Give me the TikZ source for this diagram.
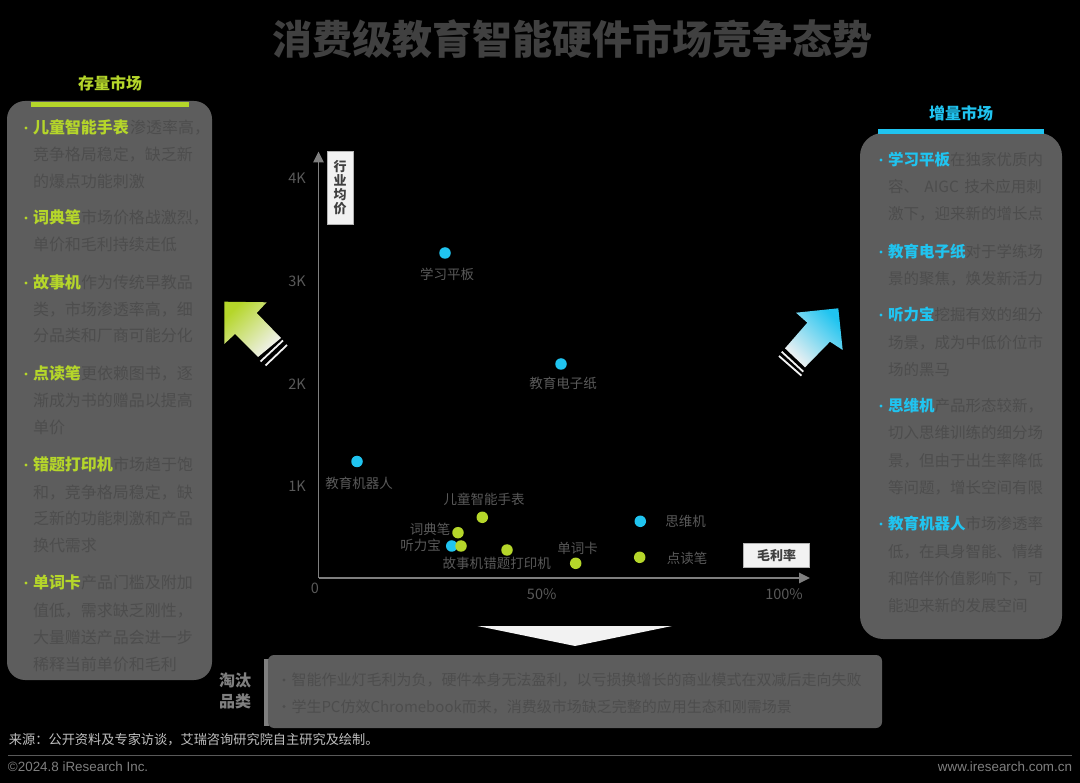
\documentclass[tikz,border=0pt]{standalone}
\usepackage{fontspec}
\setmainfont{Noto Sans CJK SC}
\newfontfamily\arialish{Liberation Sans}
\usetikzlibrary{arrows.meta}
\definecolor{limeC}{HTML}{B5D62A}
\definecolor{cyanC}{HTML}{20C4F0}
\definecolor{panelC}{HTML}{5D5D5D}
\definecolor{panelTxt}{HTML}{4D4D4D}
\definecolor{axisC}{HTML}{7F7F7F}
\definecolor{lblC}{HTML}{595959}
\definecolor{whiteC}{HTML}{F2F2F2}
\definecolor{titleC}{HTML}{404040}
\tikzset{
  txt/.style={inner sep=0pt,outer sep=0pt},
  panel/.style={fill=panelC,draw=none},
  ln16/.style={txt,anchor=west,text=panelTxt,font=\fontsize{16}{18}\selectfont,text height=14pt,text depth=2pt},
  ln15/.style={txt,anchor=west,text=panelTxt,font=\fontsize{15.5}{18}\selectfont,text height=13.6pt,text depth=1.9pt},
  hdL/.style={txt,anchor=west,text=limeC,font=\fontsize{16}{18}\selectfont\bfseries,text height=14pt,text depth=2pt},
  hdR/.style={txt,anchor=west,text=cyanC,font=\fontsize{15.5}{18}\selectfont\bfseries,text height=13.6pt,text depth=1.9pt},
  dotL/.style={circle,fill=limeC,minimum size=3.4pt,inner sep=0pt},
  dotC/.style={circle,fill=cyanC,minimum size=3.4pt,inner sep=0pt},
  ptL/.style={circle,fill=limeC,minimum size=11.5pt,inner sep=0pt},
  ptC/.style={circle,fill=cyanC,minimum size=11.5pt,inner sep=0pt},
  plbl/.style={txt,text=lblC,font=\fontsize{13.5}{15}\selectfont},
  tick/.style={txt,text=lblC,font=\fontsize{14.5}{16}\selectfont},
  axlbl/.style={fill=whiteC,draw=axisC!60!white,line width=0.6pt,text=titleC,inner sep=0pt,font=\fontsize{13}{14}\selectfont\bfseries,align=center},
  axline/.style={draw=axisC,line width=1.3pt,-{Triangle[length=11pt,width=10.5pt]}},
  botln/.style={txt,anchor=west,text=panelTxt,font=\fontsize{15}{17}\selectfont,text height=13.2pt,text depth=1.8pt},
  sectitle/.style={txt,font=\fontsize{16}{18}\selectfont\bfseries},
  stripe/.style={draw=whiteC,line width=1.8pt},
}
\begin{document}
\begin{tikzpicture}[x=1pt,y=-1pt]
\useasboundingbox (0,0) rectangle (1080,783);
\fill[black] (0,0) rectangle (1080,783);

% title
\node[txt,text=titleC,font=\fontsize{40}{42}\selectfont\bfseries] (title) at (572.5,39) {消费级教育智能硬件市场竞争态势};

% left panel
\fill[panel,rounded corners=18pt] (7,101) rectangle (212,680);
\fill[limeC] (31,102) rectangle (189,107.5);
\node[sectitle,text=limeC] (ltitle) at (110,83) {存量市场};

\node[dotL] (ld1) at (26,128) {};
\node[ln16] (l1a) at (130,128) {渗透率高，};
\node[ln16] (l1b) at (33,155) {竞争格局稳定，缺乏新};
\node[ln16] (l1c) at (33,181.5) {的爆点功能刺激};
\node[hdL] (l1h) at (33,128) {儿童智能手表};

\node[dotL] (ld2) at (26,218) {};
\node[ln16] (l2a) at (81,218) {市场价格战激烈，};
\node[ln16] (l2b) at (33,245) {单价和毛利持续走低};
\node[hdL] (l2h) at (33,218) {词典笔};

\node[dotL] (ld3) at (26,283) {};
\node[ln16] (l3a) at (81,283) {作为传统早教品};
\node[ln16] (l3b) at (33,309.5) {类，市场渗透率高，细};
\node[ln16] (l3c) at (33,336) {分品类和厂商可能分化};
\node[hdL] (l3h) at (33,283) {故事机};

\node[dotL] (ld4) at (26,374) {};
\node[ln16] (l4a) at (81,374) {更依赖图书，逐};
\node[ln16] (l4b) at (33,401) {渐成为书的赠品以提高};
\node[ln16] (l4c) at (33,428) {单价};
\node[hdL] (l4h) at (33,374) {点读笔};

\node[dotL] (ld5) at (26,465) {};
\node[ln16] (l5a) at (113,465) {市场趋于饱};
\node[ln16] (l5b) at (33,492.5) {和，竞争格局稳定，缺};
\node[ln16] (l5c) at (33,519) {乏新的功能刺激和产品};
\node[ln16] (l5d) at (33,546) {换代需求};
\node[hdL] (l5h) at (33,465) {错题打印机};

\node[dotL] (ld6) at (26,583) {};
\node[ln16] (l6a) at (81,583) {产品门槛及附加};
\node[ln16] (l6b) at (33,610) {值低，需求缺乏刚性，};
\node[ln16] (l6c) at (33,637) {大量赠送产品会进一步};
\node[ln16] (l6d) at (33,664.5) {稀释当前单价和毛利};
\node[hdL] (l6h) at (33,583) {单词卡};

% right panel
\fill[panel,rounded corners=23pt] (860,133) rectangle (1062,639);
\fill[cyanC] (878,129.5) rectangle (1044,134.5);
\node[sectitle,text=cyanC] (rtitle) at (961,113) {增量市场};

\node[dotC] (rd1) at (881,160) {};
\node[ln15] (r1a) at (950,160) {在独家优质内};
\node[ln15,text width=154pt] (r1b) at (888,187) {\makebox[154pt][s]{容、\hfill AIGC\hfill 技术应用刺}};
\node[ln15] (r1c) at (888,214) {激下，迎来新的增长点};
\node[hdR] (r1h) at (888,160) {学习平板};

\node[dotC] (rd2) at (881,252) {};
\node[ln15] (r2a) at (965.5,252) {对于学练场};
\node[ln15] (r2b) at (888,278.5) {景的聚焦，焕发新活力};
\node[hdR] (r2h) at (888,252) {教育电子纸};

\node[dotC] (rd3) at (881,315) {};
\node[ln15] (r3a) at (934.5,315) {挖掘有效的细分};
\node[ln15] (r3b) at (888,343) {场景，成为中低价位市};
\node[ln15] (r3c) at (888,369.5) {场的黑马};
\node[hdR] (r3h) at (888,315) {听力宝};

\node[dotC] (rd4) at (881,406) {};
\node[ln15] (r4a) at (934.5,406) {产品形态较新，};
\node[ln15] (r4b) at (888,433) {切入思维训练的细分场};
\node[ln15] (r4c) at (888,460.5) {景，但由于出生率降低};
\node[ln15] (r4d) at (888,487.5) {等问题，增长空间有限};
\node[hdR] (r4h) at (888,406) {思维机};

\node[dotC] (rd5) at (881,524) {};
\node[ln15] (r5a) at (965.5,524) {市场渗透率};
\node[ln15] (r5b) at (888,552) {低，在具身智能、情绪};
\node[ln15] (r5c) at (888,578.5) {和陪伴价值影响下，可};
\node[ln15] (r5d) at (888,606) {能迎来新的发展空间};
\node[hdR] (r5h) at (888,524) {教育机器人};

% block arrows
\shade[top color=limeC,bottom color=whiteC,shading angle=45]
  (224.3,301.7) -- (266.7,302.3) -- (256.7,313) -- (281,338) -- (258,357) -- (235,334) -- (224.3,344) -- cycle;
\draw[stripe] (283,340.5) -- (260.5,361.5);
\draw[stripe] (287,345) -- (265.5,365.5);
\shade[top color=cyanC,bottom color=whiteC,shading angle=-45]
  (838.3,308.3) -- (796,312.7) -- (807.3,322.7) -- (785,348.3) -- (805,367.3) -- (830,341.7) -- (842.7,350) -- cycle;
\draw[stripe] (781.7,351.7) -- (803.3,371.7);
\draw[stripe] (779,356) -- (801.5,375.7);

% axes
\coordinate (origin) at (318.5,578);
\coordinate (ytop) at (318.5,151.5);
\coordinate (xend) at (810,578);
\draw[axline] (origin) -- (ytop);
\draw[axline] (origin) -- (xend);
\node[axlbl,minimum width=26pt,minimum height=73pt] (ylab) at (340,187.5) {行\\[-0.2pt]业\\[-0.2pt]均\\[-0.2pt]价};
\node[axlbl,minimum width=66.5pt,minimum height=24.5pt] (xlab) at (776.5,555.5) {毛利率};

\node[tick] (t4k) at (297,178) {4K};
\node[tick] (t3k) at (297,281) {3K};
\node[tick] (t2k) at (297,384) {2K};
\node[tick] (t1k) at (297,486) {1K};
\node[tick] (t0) at (315,588) {0};
\node[tick] (t50) at (541.7,594) {50\%};
\node[tick] (t100) at (784,594) {100\%};

% points
\node[ptC] (p1) at (445,253) {};
\node[plbl] (p1l) at (447,274) {学习平板};
\node[ptC] (p2) at (561,364) {};
\node[plbl] (p2l) at (563,383) {教育电子纸};
\node[ptC] (p3) at (357,461.5) {};
\node[plbl] (p3l) at (359,483) {教育机器人};
\node[ptL] (p4) at (482.3,517.3) {};
\node[plbl] (p4l) at (484,499) {儿童智能手表};
\node[ptL] (p5) at (458,532.7) {};
\node[plbl] (p5l) at (430,529.3) {词典笔};
\node[ptC] (p6) at (451.7,546) {};
\node[plbl] (p6l) at (420.7,545) {听力宝};
\node[ptL] (p7) at (461,546) {};
\node[plbl] (p7l) at (462.9,563.7) {故事机};
\node[ptL] (p8) at (507,550) {};
\node[plbl] (p8l) at (517,563.7) {错题打印机};
\node[ptL] (p9) at (575.7,563.3) {};
\node[plbl] (p9l) at (577.7,548.7) {单词卡};
\node[ptC] (p10) at (640.3,521.3) {};
\node[plbl] (p10l) at (685.7,521.3) {思维机};
\node[ptL] (p11) at (639.7,557.3) {};
\node[plbl] (p11l) at (687,558.3) {点读笔};

% bottom
\fill[whiteC] (477.5,626) -- (672,626) -- (575,646) -- cycle;
\fill[axisC] (264,659) rectangle (268.5,726);
\fill[panel,rounded corners=6pt] (268,655) rectangle (882,728);
\node[sectitle,text=axisC] (tao1) at (235,680) {淘汰};
\node[sectitle,text=axisC] (tao2) at (235,701) {品类};
\node[circle,fill=panelTxt,minimum size=3.4pt,inner sep=0pt] (bd1) at (284,680) {};
\node[botln] (b1) at (291.5,680) {智能作业灯毛利为负，硬件本身无法盈利，以亏损换增长的商业模式在双减后走向失败};
\node[circle,fill=panelTxt,minimum size=3.4pt,inner sep=0pt] (bd2) at (284,706.5) {};
\node[botln] (b2) at (291.5,706.5) {学生PC仿效Chromebook而来，消费级市场缺乏完整的应用生态和刚需场景};

% footer
\node[txt,anchor=west,text=white!75!black,font=\fontsize{13.2}{15}\selectfont] (src) at (9,740) {来源：公开资料及专家访谈，艾瑞咨询研究院自主研究及绘制。};
\coordinate (ruleA) at (8,755.5);
\coordinate (ruleB) at (1072,755.5);
\draw[draw=lblC,line width=0.8pt] (ruleA) -- (ruleB);
\node[txt,anchor=west,text=axisC,font=\arialish\fontsize{13.4}{15}\selectfont] (copy) at (8,767) {©2024.8 iResearch Inc.};
\node[txt,anchor=east,text=axisC,font=\arialish\fontsize{13.4}{15}\selectfont] (web) at (1072,767) {www.iresearch.com.cn};
\end{tikzpicture}
\end{document}
